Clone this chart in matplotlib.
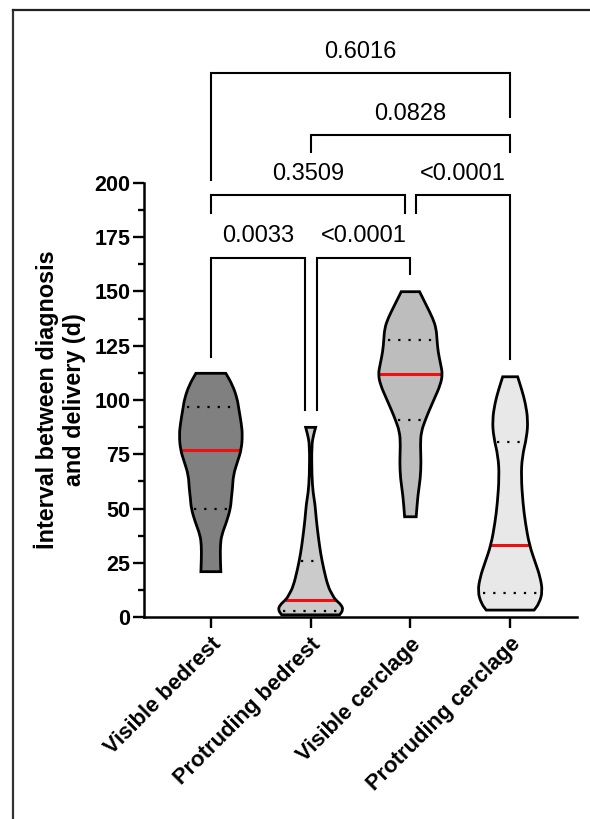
import numpy as np
import matplotlib
matplotlib.use("Agg")
import matplotlib.pyplot as plt
from matplotlib.lines import Line2D
from matplotlib.path import Path
from matplotlib.patches import PathPatch

plt.rcParams['font.family'] = ['Liberation Sans', 'DejaVu Sans']

groups = ['Visible bedrest', 'Protruding bedrest', 'Visible cerclage', 'Protruding cerclage']
colors = ['#808080', '#cbcbcb', '#bdbdbd', '#e8e8e8']

# violin outlines: y values and half widths (x units)
prof_y = [
    [20.9, 27.0, 33.2, 37.8, 43.9, 50.1, 54.7, 59.3, 65.4, 71.6, 77.0, 83.9, 89.2, 96.0, 100.8, 106.9, 112.3],
    [1.0, 3.2, 5.5, 8.1, 10.5, 14.0, 21.7, 29.3, 37.0, 44.7, 52.4, 57.0, 65.0, 79.3, 84.0, 87.4],
    [46.2, 56.2, 63.9, 71.6, 79.3, 85.4, 90.8, 94.6, 100.8, 106.9, 111.8, 116.1, 122.3, 127.6, 133.0, 137.6, 143.8, 149.9],
    [3.2, 6.3, 11.7, 18.6, 24.7, 33.2, 43.2, 52.4, 64.7, 73.9, 83.1, 90.8, 98.5, 104.6, 110.7],
]
prof_w = [
    [0.10, 0.095, 0.095, 0.108, 0.158, 0.197, 0.205, 0.217, 0.225, 0.267, 0.305, 0.317, 0.305, 0.28, 0.263, 0.217, 0.15],
    [0.29, 0.325, 0.31, 0.245, 0.215, 0.175, 0.133, 0.10, 0.077, 0.057, 0.043, 0.025, 0.012, 0.01, 0.03, 0.05],
    [0.058, 0.075, 0.10, 0.107, 0.10, 0.108, 0.15, 0.183, 0.242, 0.30, 0.322, 0.305, 0.277, 0.267, 0.258, 0.225, 0.158, 0.092],
    [0.24, 0.29, 0.325, 0.30, 0.255, 0.192, 0.153, 0.128, 0.11, 0.12, 0.167, 0.178, 0.153, 0.117, 0.075],
]
medians = [77, 8, 112, 33]
q1 = [50, 3, 91, 11]
q3 = [97, 26, 127.5, 80.5]

# significance brackets: left group, right group, top, left leg end, right leg end, label
brackets = [
    (0, 0.94, 165.6, 120.0, 95.4, '0.0033'),
    (1.06, 2, 165.6, 95.4, 158.1, '<0.0001'),
    (0, 1.945, 194.5, 186.2, 186.2, '0.3509'),
    (2.06, 3, 194.5, 186.2, 118.9, '<0.0001'),
    (1, 3, 222.1, 214.3, 214.3, '0.0828'),
    (0, 3, 250.8, 201.4, 230.4, '0.6016'),
]


def smooth_side(pts):
    # quadratic curve through segment midpoints, vertices as control points
    verts = [pts[0], (pts[0] + pts[1]) / 2]
    codes = [Path.LINETO, Path.LINETO]
    for k in range(1, len(pts) - 1):
        verts += [pts[k], (pts[k] + pts[k + 1]) / 2]
        codes += [Path.CURVE3, Path.CURVE3]
    verts.append(pts[-1])
    codes.append(Path.LINETO)
    return verts, codes


def violin_path(center, y, w):
    right = np.column_stack([center + w, y])
    left = np.column_stack([center - w, y])[::-1]
    vr, cr = smooth_side(right)
    vl, cl = smooth_side(left)
    verts = vr + vl + [vr[0]]
    codes = [Path.MOVETO] + cr[1:] + cl + [Path.CLOSEPOLY]
    return Path(np.array(verts), codes)


fig = plt.figure(figsize=(5.9, 8.19), dpi=100)
ax = fig.add_axes([0.2441, 0.2466, 0.7339, 0.53])

for i in range(len(groups)):
    y = np.array(prof_y[i])
    w = np.array(prof_w[i])
    path = violin_path(i, y, w)
    ax.add_patch(PathPatch(path, facecolor=colors[i], edgecolor='none', zorder=2))
    for q in (q1[i], q3[i]):
        hw = np.interp(q, y, w) * 0.85
        ax.plot([i - hw, i + hw], [q, q], color='black', lw=1.6,
                linestyle=(0, (1, 3.6)), zorder=3)
    hm = np.interp(medians[i], y, w) * 0.97
    ax.plot([i - hm, i + hm], [medians[i], medians[i]], color='#ee1111', lw=2.2, zorder=4)
    ax.add_patch(PathPatch(path, facecolor='none', edgecolor='black', lw=2.0,
                           zorder=5, joinstyle='miter'))

for x1, x2, top, l_end, r_end, lab in brackets:
    ax.plot([x1, x1, x2, x2], [l_end, top, top, r_end], color='black', lw=1.5,
            clip_on=False, solid_joinstyle='miter', zorder=6)
    ax.text((x1 + x2) / 2, top + 7, lab, ha='center', va='baseline', fontsize=17,
            clip_on=False)

ax.set_xlim(-0.67, 3.67)
ax.set_ylim(0, 200)
ax.set_yticks(np.arange(0, 201, 25))
ax.set_yticks(np.arange(12.5, 200, 25), minor=True)
ax.set_xticks(range(len(groups)))
ax.set_xticklabels(groups, rotation=45, ha='right', rotation_mode='anchor',
                   fontsize=15.8, fontweight='bold')
for lab in ax.get_yticklabels():
    lab.set_fontweight('bold')
ax.tick_params(axis='y', labelsize=15.5, width=1.7, length=8, pad=2)
ax.tick_params(axis='y', which='minor', width=1.7, length=4.5)
ax.tick_params(axis='x', width=1.7, length=8, pad=4)
ax.spines['top'].set_visible(False)
ax.spines['right'].set_visible(False)
for s in ('left', 'bottom'):
    ax.spines[s].set_linewidth(1.8)
ax.set_ylabel('İnterval between diagnosis\nand delivery (d)', fontsize=16.8,
              fontweight='bold', labelpad=6)

# frame around the figure (left and top edges)
fig.add_artist(Line2D([0.0212, 0.0212], [0, 0.9884], transform=fig.transFigure,
                      color='#333333', lw=1.6))
fig.add_artist(Line2D([0.0212, 1.0], [0.9884, 0.9884], transform=fig.transFigure,
                      color='#222222', lw=1.6))

fig.savefig('out.png', dpi=100)
